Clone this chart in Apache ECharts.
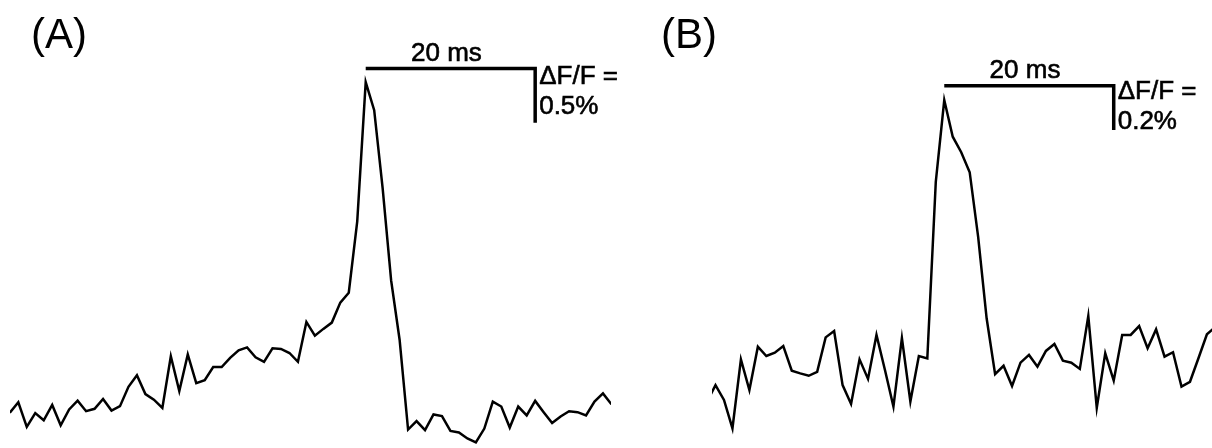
<!DOCTYPE html>
<html><head><meta charset="utf-8">
<script src="https://cdn.jsdelivr.net/npm/echarts@6/dist/echarts.min.js"></script>
<style>html,body{margin:0;padding:0;background:#fff}#c{width:1212px;height:448px}</style>
</head><body><div id="c"></div>
<script>
// ---- data (ΔF/F in %, one sample per ms) ----
const panelLabels = ['(A)', '(B)'];
const traceA = [0.024,0.121,-0.106,0.021,-0.045,0.097,-0.091,0.055,0.136,0.039,0.061,0.152,0.045,0.085,0.264,0.370,0.197,0.145,0.070,0.545,0.225,0.561,0.297,0.325,0.445,0.445,0.530,0.600,0.627,0.536,0.494,0.618,0.612,0.575,0.494,0.861,0.734,0.797,0.855,1.039,1.130,1.788,3.070,2.812,2.091,1.243,0.697,-0.130,-0.052,-0.136,0.009,-0.006,-0.143,-0.157,-0.212,-0.248,-0.121,0.127,0.082,-0.112,0.082,0.000,0.134,0.030,-0.070,-0.009,0.039,0.030,0.000,0.127,0.203,0.102];
const traceB = [-0.099,-0.023,-0.090,-0.218,0.093,-0.045,0.150,0.108,0.123,0.153,0.042,0.030,0.019,0.037,0.192,0.221,-0.023,-0.108,0.093,0.005,0.203,0.045,-0.120,0.189,-0.097,0.108,0.097,0.893,1.261,1.096,1.026,0.936,0.645,0.278,0.026,0.064,-0.027,0.078,0.113,0.060,0.131,0.162,0.087,0.078,0.050,0.288,-0.125,0.120,-0.003,0.203,0.203,0.243,0.143,0.228,0.105,0.125,-0.030,-0.008,0.098,0.206,0.239];
const sampleMs = 1;
const timeBarMs = 20;
const timeBarLabel = '20 ms';
const ampBarA = 0.5, ampLabelA = ['ΔF/F =', '0.5%'];
const ampBarB = 0.2, ampLabelB = ['ΔF/F =', '0.2%'];
const barStartA = 42, barTopA = 3.195;   // ms, %
const barStartB = 28, barTopB = 1.326;

// ---- chart ----
const FONT = 'Liberation Sans, Arial, Helvetica, sans-serif';
function toXY(arr){ return arr.map((v,i)=>[i*sampleMs, v]); }
function panelSeries(idx, trace, x0, top, amp, ampLabel, ampDy){
  const base = {xAxisIndex: idx, yAxisIndex: idx, animation:false, silent:true};
  const lbl = {show:true, color:'#000', opacity:1, fontFamily:FONT, fontSize:26, lineHeight:30, textBorderColor:'#000', textBorderWidth:0.6};
  return [
    Object.assign({}, base, {type:'line', data: toXY(trace), showSymbol:false, symbol:'none', clip:true,
      lineStyle:{color:'#000', width:2.5, join:'miter', cap:'butt'}}),
    Object.assign({}, base, {type:'line', data: [[x0, top],[x0+timeBarMs, top],[x0+timeBarMs, top-amp]],
      showSymbol:false, symbol:'none', clip:false, lineStyle:{color:'#000', width:3.5, join:'miter', cap:'butt'}}),
    Object.assign({}, base, {type:'scatter', symbolSize:0, clip:false, itemStyle:{color:'#000'},
      data: [
        {value:[x0+timeBarMs/2, top], label:Object.assign({}, lbl, {formatter: timeBarLabel, position:'top', distance:0, offset:[-4,0]})},
        {value:[x0+timeBarMs, top], label:Object.assign({}, lbl, {formatter: ampLabel.join('\n'), position:[4, ampDy], align:'left', verticalAlign:'top'})}
      ]})
  ];
}
const chart = echarts.init(document.getElementById('c'), null, {renderer:'canvas'});
chart.setOption({
  backgroundColor:'#fff',
  animation:false,
  title:[
    {text: panelLabels[0], left:31, top:15, padding:0, textStyle:{fontFamily:FONT, fontSize:42, fontWeight:'normal', color:'#000', lineHeight:42}},
    {text: panelLabels[1], left:661, top:15, padding:0, textStyle:{fontFamily:FONT, fontSize:42, fontWeight:'normal', color:'#000', lineHeight:42}}
  ],
  grid:[
    {left:11.7, top:68, width:596.6, height:385},
    {left:713.3, top:80.3, width:498.7, height:366.3}
  ],
  xAxis:[
    {type:'value', gridIndex:0, min:0.22, max:70.63, show:false},
    {type:'value', gridIndex:1, min:0.74, max:59.6, show:false}
  ],
  yAxis:[
    {type:'value', gridIndex:0, min:-0.3, max:3.2, show:false},
    {type:'value', gridIndex:1, min:-0.3, max:1.35, show:false}
  ],
  series: [].concat(
    panelSeries(0, traceA, barStartA, barTopA, ampBarA, ampLabelA, -7),
    panelSeries(1, traceB, barStartB, barTopB, ampBarB, ampLabelB, -9)
  )
});
</script></body></html>
